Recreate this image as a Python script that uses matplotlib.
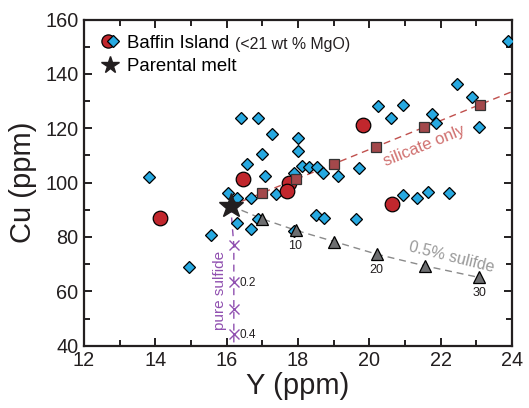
import matplotlib
matplotlib.use("Agg")
import matplotlib.pyplot as plt
from matplotlib.lines import Line2D
from matplotlib.legend_handler import HandlerTuple
from matplotlib.ticker import MultipleLocator

plt.rcParams['font.family'] = ['Liberation Sans', 'DejaVu Sans']

# Baffin Island samples (diamonds)
diamond_y = [23.88, 13.83, 16.39, 16.89, 17.28, 18.01, 18.01, 16.98, 16.58, 17.07,
             18.10, 18.32, 18.52, 18.71, 19.13, 19.72, 17.89, 20.25, 20.62, 20.93,
             22.47, 22.89, 21.75, 21.87, 23.06, 16.05, 16.30, 16.68, 17.38, 15.56,
             14.95, 16.28, 16.68, 16.89, 17.90, 18.50, 18.72, 19.63, 20.93, 21.34,
             21.65, 22.24]
diamond_cu = [152.1, 102.0, 123.7, 123.7, 117.8, 116.4, 111.8, 110.4, 106.7, 102.5,
              106.1, 105.9, 105.9, 103.7, 102.6, 105.5, 103.5, 128.2, 123.9, 128.5,
              136.2, 131.6, 125.3, 122.1, 120.6, 96.1, 94.5, 94.3, 95.8, 80.8,
              69.0, 85.1, 83.0, 86.7, 82.3, 88.1, 86.9, 86.5, 95.4, 94.5,
              96.6, 96.1]

# Baffin Island samples (circles)
circle_y = [14.13, 16.47, 17.76, 17.70, 19.81, 20.63]
circle_cu = [87.0, 101.2, 100.0, 96.8, 121.1, 92.2]

# parental melt
parent_y = [16.11]
parent_cu = [91.5]

# silicate-only fractionation
silicate_y = [17.00, 17.94, 19.01, 20.19, 21.54, 23.09]
silicate_cu = [96.1, 101.2, 106.9, 113.1, 120.3, 128.6]
silicate_line_y = [16.11, 24.0]
silicate_line_cu = [91.5, 133.5]

# 0.5% sulfide fractionation
sulf05_y = [16.99, 17.93, 19.02, 20.20, 21.55, 23.08]
sulf05_cu = [86.7, 82.5, 78.3, 73.7, 69.4, 65.1]
sulf05_labels = ['', '10', '', '20', '', '30']

# pure sulfide
pure_y = [16.20, 16.20, 16.20, 16.20]
pure_cu = [77.0, 63.5, 53.6, 44.4]
pure_labels = ['', '0.2', '', '0.4']

BLUE = '#27a9e1'
RED = '#c1272d'
BROWN = '#a3484b'
GRAY = '#6d6e70'
PURPLE = '#9050b0'
INK = '#231f20'

fig = plt.figure(figsize=(5.29, 4.08), dpi=100)
ax = fig.add_axes([0.1588, 0.1527, 0.8092, 0.7993])

# trend lines
ax.plot(silicate_line_y, silicate_line_cu, color='#c0504d', lw=1.0,
        dashes=(5, 3.5), zorder=2)
ax.plot(parent_y + sulf05_y, parent_cu + sulf05_cu, color='#8a8a8a', lw=1.0,
        dashes=(5, 3.5), zorder=2)
ax.plot([parent_y[0], pure_y[0], pure_y[0]], [parent_cu[0], pure_cu[0], 40],
        color=PURPLE, lw=1.0, dashes=(5, 3.5), zorder=2)

ax.plot(diamond_y, diamond_cu, ls='none', marker='D', ms=6, mfc=BLUE,
        mec='black', mew=0.9, zorder=3)
ax.plot(circle_y, circle_cu, ls='none', marker='o', ms=10.5, mfc=RED,
        mec='black', mew=0.9, zorder=4)
ax.plot(silicate_y, silicate_cu, ls='none', marker='s', ms=7, mfc=BROWN,
        mec='#333333', mew=0.9, zorder=5)
ax.plot(sulf05_y, sulf05_cu, ls='none', marker='^', ms=8, mfc=GRAY,
        mec='black', mew=0.9, zorder=5)
ax.plot(pure_y, pure_cu, ls='none', marker='x', ms=6.5, mec=PURPLE,
        mew=1.0, zorder=5)
ax.plot(parent_y, parent_cu, ls='none', marker='*', ms=18.5, color=INK,
        zorder=6)

for x, y, lab in zip(sulf05_y, sulf05_cu, sulf05_labels):
    if lab:
        ax.annotate(lab, (x, y), xytext=(0, -7), textcoords='offset points',
                    ha='center', va='top', fontsize=9, color=INK)
for x, y, lab in zip(pure_y, pure_cu, pure_labels):
    if lab:
        ax.annotate(lab, (x, y), xytext=(4, -1), textcoords='offset points',
                    ha='left', va='center', fontsize=8.5, color=INK)

ax.text(21.53, 113.6, 'silicate only', color='#d0706f', fontsize=12,
        rotation=22, ha='center', va='center', rotation_mode='anchor')
ax.text(22.31, 72.5, '0.5% sulifde', color='#999999', fontsize=11.5,
        rotation=-14, ha='center', va='center', rotation_mode='anchor')
ax.text(15.81, 60.2, 'pure sulfide', color=PURPLE, fontsize=11,
        rotation=90, ha='center', va='center')

# legend
h_circle = Line2D([], [], ls='none', marker='o', ms=9.5, mfc=RED, mec='black', mew=0.9)
h_diamond = Line2D([], [], ls='none', marker='D', ms=6.5, mfc=BLUE, mec='black', mew=0.9)
h_star = Line2D([], [], ls='none', marker='*', ms=13, color=INK)
leg = ax.legend([(h_circle, h_diamond), h_star], ['Baffin Island', 'Parental melt'],
                handler_map={tuple: HandlerTuple(ndivide=None, pad=-0.9)},
                loc='upper left', bbox_to_anchor=(0.031, 0.954), frameon=False,
                fontsize=13.4, handlelength=1.4, handletextpad=0.2,
                labelspacing=0.35, borderpad=0, borderaxespad=0)
txt = leg.get_texts()[0]
ax.annotate('(<21 wt % MgO)', xy=(1, 0), xycoords=txt, xytext=(4, 0),
            textcoords='offset points', ha='left', va='bottom',
            fontsize=11.4, color=INK, zorder=10)

ax.set_xlim(12, 24)
ax.set_ylim(40, 160)
ax.xaxis.set_major_locator(MultipleLocator(2))
ax.xaxis.set_minor_locator(MultipleLocator(1))
ax.yaxis.set_major_locator(MultipleLocator(20))
ax.yaxis.set_minor_locator(MultipleLocator(10))
ax.tick_params(which='both', direction='in', top=True, right=True,
               width=1.4, colors=INK, labelsize=14.3, pad=4)
ax.tick_params(which='major', length=6)
ax.tick_params(which='minor', length=4)
for s in ax.spines.values():
    s.set_linewidth(1.6)
    s.set_color(INK)

ax.set_xlabel('Y (ppm)', fontsize=21, color=INK, labelpad=1)
ax.set_ylabel('Cu (ppm)', fontsize=21, color=INK, labelpad=6)

fig.savefig('out.png', dpi=100)
